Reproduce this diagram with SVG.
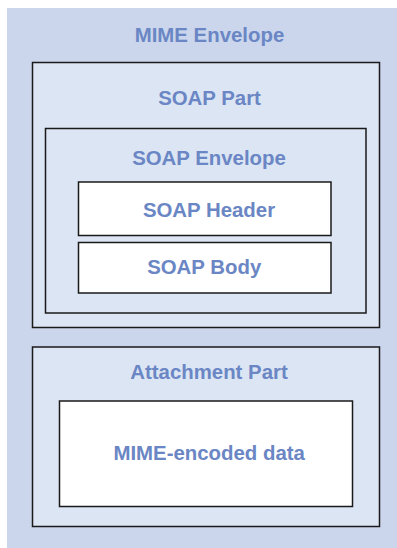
<svg xmlns="http://www.w3.org/2000/svg" width="397" height="548" viewBox="0 0 397 548">
<style>
.box{stroke:#1a1a1a;stroke-width:1.5}
.mid{fill:#dce5f3}
.white{fill:#ffffff}
.lbl{font-family:"Liberation Sans",Arial,sans-serif;font-weight:bold;font-size:20.4px;fill:#6a86c4;text-anchor:middle}
</style>
<rect width="397" height="548" fill="#ffffff"/>
<g id="mime-envelope">
<rect x="7" y="8" width="390" height="540" fill="#cbd6ed"/>
<text class="lbl" x="209.5" y="42">MIME Envelope</text>
</g>
<g id="soap-part">
<rect class="box mid" x="32.5" y="62.5" width="347" height="265"/>
<text class="lbl" x="209.5" y="105">SOAP Part</text>
</g>
<g id="soap-envelope">
<rect class="box mid" x="45.5" y="128.5" width="320.5" height="184.5"/>
<text class="lbl" x="209" y="164.5">SOAP Envelope</text>
</g>
<g id="soap-header">
<rect class="box white" x="78.5" y="182" width="252.5" height="53.5"/>
<text class="lbl" x="209" y="216.7">SOAP Header</text>
</g>
<g id="soap-body">
<rect class="box white" x="78.5" y="242.5" width="252.5" height="50.5"/>
<text class="lbl" x="204.2" y="274.3">SOAP Body</text>
</g>
<g id="attachment-part">
<rect class="box mid" x="32.5" y="347" width="347" height="179.5"/>
<text class="lbl" x="209" y="379">Attachment Part</text>
</g>
<g id="mime-data">
<rect class="box white" x="59.5" y="401" width="293" height="105.5"/>
<text class="lbl" x="209.2" y="460">MIME-encoded data</text>
</g>
<g id="connectors"/>
</svg>
